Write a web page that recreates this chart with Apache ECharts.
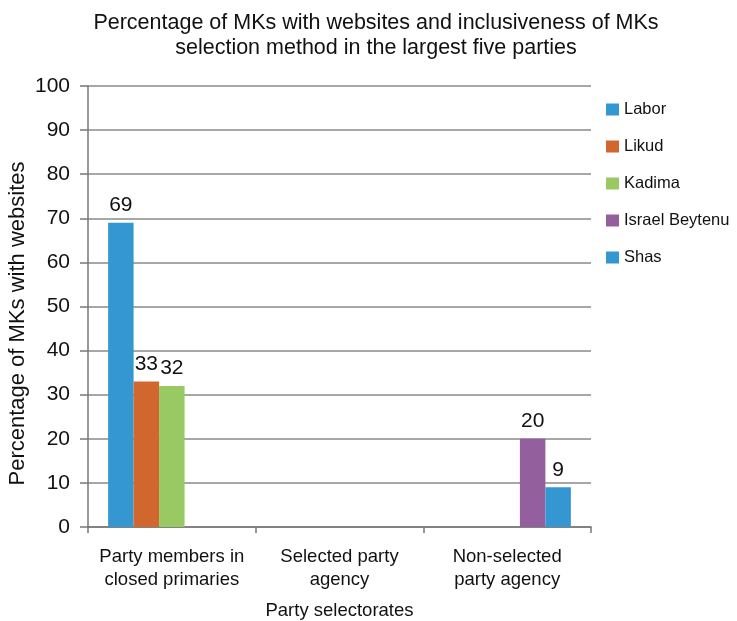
<!DOCTYPE html>
<html><head><meta charset="utf-8">
<script src="https://cdn.jsdelivr.net/npm/echarts@6/dist/echarts.min.js"></script>
<style>html,body{margin:0;padding:0;background:#fff}#c{width:737px;height:621px}</style>
</head><body><div id="c"></div>
<script>
const categories = ['Party members in\nclosed primaries', 'Selected party\nagency', 'Non-selected\nparty agency'];
const seriesNames = ['Labor', 'Likud', 'Kadima', 'Israel Beytenu', 'Shas'];
const labor = [69, null, null];
const likud = [33, null, null];
const kadima = [32, null, null];
const israelBeytenu = [null, null, 20];
const shas = [null, null, 9];
const colors = ['#3497d1', '#d2662f', '#98c963', '#935f9d', '#3497d1'];
const values = [labor, likud, kadima, israelBeytenu, shas];
const F = '"Liberation Sans", Arial, sans-serif';

const chart = echarts.init(document.getElementById('c'), null, {renderer: 'canvas'});
chart.setOption({
  animation: false,
  textStyle: {fontFamily: F},
  title: {
    text: 'Percentage of MKs with websites and inclusiveness of MKs\nselection method in the largest five parties',
    left: 371, top: 6, textAlign: 'center',
    textStyle: {fontFamily: F, fontSize: 21.5, fontWeight: 'normal', color: '#111', lineHeight: 25}
  },
  legend: {
    orient: 'vertical', left: 601, top: 96, itemGap: 20, itemWidth: 13, itemHeight: 12,
    icon: 'rect',
    textStyle: {fontFamily: F, fontSize: 16.5, color: '#111'},
    data: seriesNames
  },
  grid: {left: 88, right: 146, top: 86, bottom: 94, containLabel: false, outerBoundsMode: 'none'},
  xAxis: {
    type: 'category', data: categories,
    name: 'Party selectorates', nameLocation: 'middle', nameGap: 74, nameMoveOverlap: false,
    nameTextStyle: {fontFamily: F, fontSize: 18.5, color: '#111'},
    axisLine: {lineStyle: {color: '#777', width: 1.5}},
    axisTick: {show: true, length: 6, lineStyle: {color: '#777', width: 1.5}},
    axisLabel: {interval: 0, fontFamily: F, fontSize: 18.5, color: '#111', margin: 18, lineHeight: 23}
  },
  yAxis: {
    type: 'value', min: 0, max: 100, interval: 10,
    name: 'Percentage of MKs with websites', nameLocation: 'middle', nameGap: 59, nameMoveOverlap: false,
    nameTextStyle: {fontFamily: F, fontSize: 22, color: '#111', padding: [0, 34, 0, 0]},
    axisLine: {show: true, lineStyle: {color: '#777', width: 1.5}},
    axisTick: {show: true, length: 8, lineStyle: {color: '#777', width: 1.5}},
    axisLabel: {fontFamily: F, fontSize: 21, color: '#111', margin: 18},
    splitLine: {lineStyle: {color: '#8a8a8a', width: 1.5}}
  },
  series: seriesNames.map((n, i) => ({
    name: n, type: 'bar', data: values[i],
    barGap: '0%', barCategoryGap: '24%',
    itemStyle: {color: colors[i]},
    label: {show: true, position: 'top', distance: 7, fontFamily: F, fontSize: 21, color: '#111'}
  }))
});
</script></body></html>
